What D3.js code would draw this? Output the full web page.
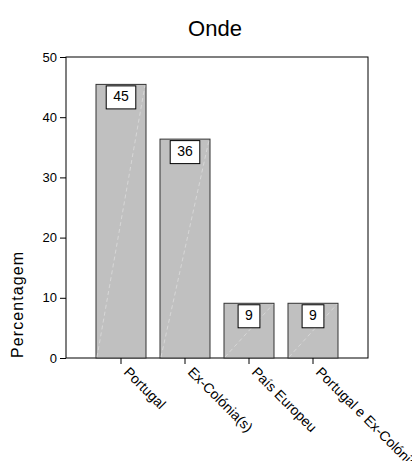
<!DOCTYPE html>
<html><head><meta charset="utf-8">
<script src="https://cdn.jsdelivr.net/npm/d3@7"></script>
<style>body{margin:0;background:#fff}svg{display:block}</style>
</head><body>
<script>
const categories = ["Portugal", "Ex-Colónia(s)", "País Europeu", "Portugal e Ex-Colónia(s)"];
const values = [45.45, 36.36, 9.09, 9.09];
const labels = ["45", "36", "9", "9"];
const yTicks = [0, 10, 20, 30, 40, 50];

const W = 412, H = 461;
const FONT = "Arial, 'Liberation Sans', sans-serif";
const m = {left: 66, right: 368, top: 57, bottom: 358};
const svg = d3.select("body").append("svg").attr("width", W).attr("height", H)
  .style("font-family", FONT);

const x = d3.scaleBand().domain(categories).range([m.left, m.right])
  .paddingInner(0.21875).paddingOuter(0.46875);
const y = d3.scaleLinear().domain([0, 50]).range([m.bottom, m.top]);

// frame
svg.append("rect").attr("x", m.left).attr("y", m.top)
  .attr("width", m.right - m.left).attr("height", m.bottom - m.top)
  .attr("fill", "none").attr("stroke", "#000").attr("stroke-width", 1);

// bars
const g = svg.append("g");
categories.forEach((c, i) => {
  const x0 = x(c), bw = x.bandwidth(), yt = y(values[i]);
  g.append("rect").attr("x", x0).attr("y", yt).attr("width", bw).attr("height", y(0) - yt)
    .attr("fill", "#c0c0c0").attr("stroke", "#333").attr("stroke-width", 1);
  g.append("line").attr("x1", x0 + 1).attr("y1", y(0) - 1).attr("x2", x0 + bw - 1).attr("y2", yt + 1)
    .attr("stroke", "#dcdcdc").attr("stroke-width", 0.8).attr("stroke-dasharray", "4,3");
  const t = g.append("text").attr("x", x0 + bw / 2).attr("y", yt + 13)
    .attr("text-anchor", "middle").attr("dominant-baseline", "middle")
    .attr("font-size", 14).text(labels[i]);
  const tw = t.node().getComputedTextLength();
  g.insert("rect", function(){ return t.node(); })
    .attr("x", x0 + bw / 2 - tw / 2 - 7).attr("y", yt + 1.5)
    .attr("width", tw + 14).attr("height", 23)
    .attr("fill", "#fff").attr("stroke", "#000").attr("stroke-width", 1);
});

// y axis
const ya = svg.append("g").attr("transform", `translate(${m.left},0)`)
  .call(d3.axisLeft(y).tickValues(yTicks).tickSize(6).tickPadding(3));
ya.select(".domain").remove();
ya.selectAll("text").attr("font-size", 13).attr("fill", "#000").style("font-family", FONT);

// x axis
const xa = svg.append("g").attr("transform", `translate(0,${m.bottom})`)
  .call(d3.axisBottom(x).tickSize(6));
xa.select(".domain").remove();
xa.selectAll("text").attr("font-size", 14).attr("fill", "#000")
  .style("font-family", FONT)
  .attr("text-anchor", "start").attr("dy", null).attr("y", 0)
  .attr("transform", "translate(2,15) rotate(45)");

// title
svg.append("text").attr("x", 215).attr("y", 36).attr("text-anchor", "middle")
  .attr("font-size", 22).text("Onde");

// y label
svg.append("text").attr("transform", "translate(23,305) rotate(-90)")
  .attr("text-anchor", "middle").attr("font-size", 16)
  .attr("textLength", 106).attr("lengthAdjust", "spacing").text("Percentagem");
</script>
</body></html>
